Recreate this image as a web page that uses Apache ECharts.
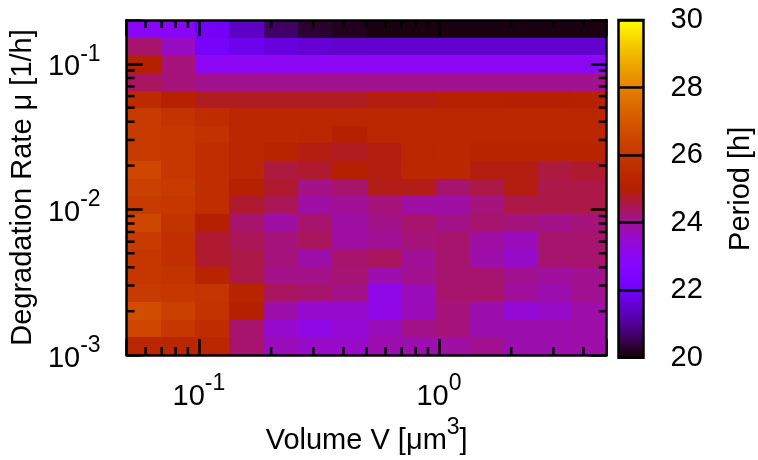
<!DOCTYPE html>
<html>
<head>
<meta charset="utf-8">
<script src="https://cdn.jsdelivr.net/npm/echarts@6/dist/echarts.min.js"></script>
<style>
  html, body { margin: 0; padding: 0; background: #fff; }
  #chart { width: 758px; height: 460px; }
</style>
</head>
<body>
<div id="chart"></div>
<script>
// Cell centres of the simulation grid (log-spaced)
const volumes = [0.0589, 0.0819, 0.1138, 0.1581, 0.2197, 0.3053, 0.4242,
                 0.5894, 0.8190, 1.138, 1.581, 2.197, 3.053, 4.242];
// degradation rates, highest first (one row of `periods` each)
const rates = [0.1739, 0.1316, 0.09957, 0.07534, 0.05701, 0.04313, 0.03264,
               0.02470, 0.01869, 0.01414, 0.01070, 0.008095, 0.006125, 0.004635,
               0.003507, 0.002654, 0.002008, 0.001519, 0.001150];
// oscillation period in hours; rows follow `rates`, columns follow `volumes`
const periods = [
  [22.9, 22.9, 22.1, 21.4, 20.65, 20.3, 20.2, 20.1, 20.1, 20.1, 20.1, 20.1, 20.1, 20.1],
  [24.3, 23.6, 22.2, 21.9, 21.7, 21.55, 21.5, 21.5, 21.5, 21.5, 21.5, 21.5, 21.5, 21.5],
  [25.0, 24.2, 23.0, 23.0, 23.0, 23.0, 23.0, 23.0, 23.0, 23.0, 23.0, 23.0, 23.0, 23.0],
  [24.4, 24.2, 24.05, 24.05, 24.05, 24.05, 24.05, 24.05, 24.05, 24.05, 24.05, 24.05, 24.05, 24.05],
  [25.5, 25.1, 24.8, 24.8, 24.8, 24.8, 24.8, 24.9, 24.9, 25.1, 25.1, 25.0, 25.0, 25.1],
  [26.1, 25.85, 25.55, 25.3, 25.3, 25.3, 25.3, 25.3, 25.3, 25.3, 25.3, 25.3, 25.3, 25.3],
  [26.15, 26.0, 25.8, 25.4, 25.4, 25.3, 25.0, 25.3, 25.3, 25.3, 25.3, 25.3, 25.3, 25.3],
  [26.15, 26.0, 25.6, 25.3, 25.2, 24.9, 24.8, 24.9, 25.3, 25.4, 25.2, 25.2, 25.2, 25.2],
  [26.5, 26.0, 25.6, 25.3, 24.6, 24.7, 25.0, 24.9, 25.4, 25.4, 24.9, 24.9, 24.6, 24.7],
  [26.3, 26.15, 25.6, 25.1, 24.7, 24.1, 24.3, 24.85, 24.85, 24.3, 24.55, 24.9, 24.55, 24.55],
  [26.15, 26.0, 25.6, 24.7, 24.45, 23.9, 24.0, 24.2, 23.9, 23.9, 24.2, 24.55, 24.55, 24.55],
  [26.5, 25.85, 25.0, 24.3, 23.9, 24.3, 23.9, 24.1, 24.3, 24.1, 24.3, 24.2, 24.1, 24.2],
  [26.15, 25.7, 24.7, 24.45, 24.2, 24.4, 23.9, 24.0, 24.2, 24.3, 23.9, 23.7, 24.3, 24.3],
  [26.0, 25.7, 24.7, 24.55, 24.2, 23.85, 24.3, 24.4, 24.0, 24.3, 23.85, 23.55, 24.3, 24.3],
  [26.0, 25.85, 25.2, 24.55, 24.1, 24.1, 24.25, 23.8, 24.05, 24.3, 24.3, 24.05, 23.95, 24.05],
  [26.15, 26.0, 25.9, 25.2, 24.4, 24.3, 24.1, 23.2, 23.7, 24.3, 24.3, 23.95, 23.8, 24.05],
  [26.7, 26.3, 25.85, 25.0, 23.85, 23.5, 23.5, 23.2, 23.7, 24.2, 23.8, 23.4, 23.55, 23.85],
  [26.5, 26.0, 25.55, 24.3, 23.5, 23.2, 23.4, 23.7, 24.1, 24.2, 23.8, 23.8, 23.8, 23.85],
  [25.3, 25.3, 25.4, 24.3, 23.7, 23.55, 23.55, 23.8, 23.8, 23.9, 24.05, 23.8, 23.8, 23.85]
];
// axis ranges and tick positions
const volumeRange = [0.05, 5];
const rateRange = [0.001, 0.2];
const periodRange = [20, 30];
const periodStep = 2;
const volumeMinorTicks = [0.06, 0.07, 0.08, 0.09, 0.2, 0.3, 0.4, 0.5, 0.6, 0.7, 0.8, 0.9, 2, 3, 4];
const rateMinorTicks = [0.002, 0.003, 0.004, 0.005, 0.006, 0.007, 0.008, 0.009,
                        0.02, 0.03, 0.04, 0.05, 0.06, 0.07, 0.08, 0.09];

const FONT = 'Liberation Sans, Arial, Helvetica, sans-serif';
const FS = 29;
const SUP = { fontSize: 23, fontFamily: FONT, color: '#000', padding: [0, 0, 26, 0] };

// gnuplot-style palette (rgbformulae 7,5,15): r=sqrt(t), g=t^3, b=sin(2*pi*t)
function paletteColor(t) {
  const r = Math.sqrt(t), g = t * t * t, b = Math.max(0, Math.sin(2 * Math.PI * t));
  const h = v => Math.round(Math.min(1, Math.max(0, v)) * 255);
  return 'rgb(' + h(r) + ',' + h(g) + ',' + h(b) + ')';
}
const paletteStops = [];
for (let k = 0; k <= 100; k++) paletteStops.push(paletteColor(k / 100));

// cell borders: geometric midpoints between neighbouring centres
function cellEdges(c) {
  const n = c.length, e = [];
  for (let i = 0; i <= n; i++) {
    if (i === 0) e.push(c[0] * Math.sqrt(c[0] / c[1]));
    else if (i === n) e.push(c[n - 1] * Math.sqrt(c[n - 1] / c[n - 2]));
    else e.push(Math.sqrt(c[i - 1] * c[i]));
  }
  return e;
}
const vEdges = cellEdges(volumes);
const rEdges = cellEdges(rates);

const cells = [];
rates.forEach((r, j) => volumes.forEach((v, i) => {
  cells.push([v, r, periods[j][i], vEdges[i], vEdges[i + 1], rEdges[j], rEdges[j + 1]]);
}));

function powerLabel(v) {
  const l = Math.log10(v), e = Math.round(l);
  if (Math.abs(l - e) > 1e-6) return '';
  return '10{sup|' + e + '}';
}

const lineStyle = { color: '#000', width: 2.5 };
const labelBase = { fontSize: FS, fontFamily: FONT, color: '#000', rich: { sup: SUP } };

const chart = echarts.init(document.getElementById('chart'), null, { renderer: 'canvas' });
chart.setOption({
  backgroundColor: '#fff',
  animation: false,
  grid: [
    { left: 126, top: 20, width: 480.7, height: 337.7 },
    { left: 618.5, top: 20, width: 25, height: 337.7 }
  ],
  visualMap: {
    show: false, type: 'continuous', seriesIndex: 0, dimension: 2,
    min: periodRange[0], max: periodRange[1],
    inRange: { color: paletteStops }
  },
  xAxis: [
    {
      gridIndex: 0, type: 'log', logBase: 10, min: volumeRange[0], max: volumeRange[1],
      position: 'bottom', z: 10,
      axisLine: { show: true, lineStyle },
      axisTick: { show: true, inside: true, length: 16, lineStyle },
      splitLine: { show: false },
      axisLabel: Object.assign({ margin: 17, formatter: powerLabel, showMinLabel: true, showMaxLabel: true }, labelBase),
      name: 'Volume V [μm{sup|3}]', nameLocation: 'middle', nameGap: 61,
      nameTextStyle: { fontSize: FS, fontFamily: FONT, color: '#000', rich: { sup: SUP } }
    },
    {
      gridIndex: 0, type: 'log', logBase: 10, min: volumeRange[0], max: volumeRange[1],
      position: 'top', z: 10,
      axisLine: { show: true, lineStyle },
      axisTick: { show: true, inside: true, length: 16, lineStyle },
      splitLine: { show: false }, axisLabel: { show: false }
    },
    {
      gridIndex: 1, type: 'value', min: 0, max: 1, show: false
    }
  ],
  yAxis: [
    {
      gridIndex: 0, type: 'log', logBase: 10, min: rateRange[0], max: rateRange[1],
      position: 'left', z: 10,
      axisLine: { show: true, lineStyle },
      axisTick: { show: true, inside: true, length: 16, lineStyle },
      splitLine: { show: false },
      axisLabel: Object.assign({ margin: 26, padding: [7, 0, 0, 0], formatter: powerLabel, showMinLabel: true, showMaxLabel: true }, labelBase),
      name: 'Degradation Rate μ [1/h]', nameLocation: 'middle', nameGap: 86, nameRotate: 90,
      nameTextStyle: { fontSize: FS, fontFamily: FONT, color: '#000' }
    },
    {
      gridIndex: 0, type: 'log', logBase: 10, min: rateRange[0], max: rateRange[1],
      position: 'right', z: 10,
      axisLine: { show: true, lineStyle },
      axisTick: { show: true, inside: true, length: 16, lineStyle },
      splitLine: { show: false }, axisLabel: { show: false }
    },
    {
      gridIndex: 1, type: 'value', min: periodRange[0], max: periodRange[1], interval: periodStep,
      position: 'right', z: 10,
      axisLine: { show: false },
      axisTick: { show: false },
      splitLine: { show: true, lineStyle: { color: '#000', width: 2.5 } },
      axisLabel: { margin: 27, fontSize: FS, fontFamily: FONT, color: '#000' },
      name: 'Period [h]', nameLocation: 'middle', nameGap: 83, nameRotate: 90,
      nameTextStyle: { fontSize: FS, fontFamily: FONT, color: '#000' }
    }
  ],
  series: [
    {
      // heat map cells
      type: 'custom', xAxisIndex: 0, yAxisIndex: 0, clip: true,
      encode: { x: 0, y: 1 },
      data: cells,
      renderItem: function (params, api) {
        const a = api.coord([api.value(3), api.value(5)]);
        const b = api.coord([api.value(4), api.value(6)]);
        const x0 = Math.round(Math.min(a[0], b[0])), x1 = Math.round(Math.max(a[0], b[0]));
        const y0 = Math.round(Math.min(a[1], b[1])), y1 = Math.round(Math.max(a[1], b[1]));
        return {
          type: 'rect',
          shape: { x: x0, y: y0, width: x1 - x0, height: y1 - y0 },
          style: { fill: api.visual('color'), stroke: null }
        };
      }
    },
    {
      // minor ticks along the volume axis, bottom and top
      type: 'custom', xAxisIndex: 0, yAxisIndex: 0, z: 10, silent: true,
      encode: { x: 0, y: 1 },
      data: volumeMinorTicks.map(v => [v, 0.01]),
      renderItem: function (params, api) {
        const cs = params.coordSys;
        const x = api.coord([api.value(0), api.value(1)])[0];
        return {
          type: 'group', children: [
            { type: 'line', shape: { x1: x, y1: cs.y + cs.height, x2: x, y2: cs.y + cs.height - 8 }, style: { stroke: '#000', lineWidth: 2.5 } },
            { type: 'line', shape: { x1: x, y1: cs.y, x2: x, y2: cs.y + 8 }, style: { stroke: '#000', lineWidth: 2.5 } }
          ]
        };
      }
    },
    {
      // minor ticks along the rate axis, left and right
      type: 'custom', xAxisIndex: 0, yAxisIndex: 0, z: 10, silent: true,
      encode: { x: 0, y: 1 },
      data: rateMinorTicks.map(r => [1, r]),
      renderItem: function (params, api) {
        const cs = params.coordSys;
        const y = api.coord([api.value(0), api.value(1)])[1];
        return {
          type: 'group', children: [
            { type: 'line', shape: { x1: cs.x, y1: y, x2: cs.x + 8, y2: y }, style: { stroke: '#000', lineWidth: 2.5 } },
            { type: 'line', shape: { x1: cs.x + cs.width, y1: y, x2: cs.x + cs.width - 8, y2: y }, style: { stroke: '#000', lineWidth: 2.5 } }
          ]
        };
      }
    },
    {
      // colour bar
      type: 'custom', xAxisIndex: 2, yAxisIndex: 2, z: 1, silent: true,
      encode: { x: 0, y: 1 },
      data: [[0.5, 25]],
      renderItem: function (params, api) {
        const lo = api.coord([0, periodRange[0]]);
        const hi = api.coord([1, periodRange[1]]);
        return {
          type: 'rect',
          shape: { x: lo[0], y: hi[1], width: hi[0] - lo[0], height: lo[1] - hi[1] },
          style: {
            fill: {
              type: 'linear', x: 0, y: 1, x2: 0, y2: 0,
              colorStops: paletteStops.map((c, k) => ({ offset: k / (paletteStops.length - 1), color: c }))
            },
            stroke: null
          }
        };
      }
    },
    {
      // colour bar frame
      type: 'custom', xAxisIndex: 2, yAxisIndex: 2, z: 20, silent: true,
      encode: { x: 0, y: 1 },
      data: [[0.5, 25]],
      renderItem: function (params, api) {
        const lo = api.coord([0, periodRange[0]]);
        const hi = api.coord([1, periodRange[1]]);
        return {
          type: 'rect',
          shape: { x: lo[0], y: hi[1], width: hi[0] - lo[0], height: lo[1] - hi[1] },
          style: { fill: null, stroke: '#000', lineWidth: 2.5 }
        };
      }
    }
  ]
});
</script>
</body>
</html>
